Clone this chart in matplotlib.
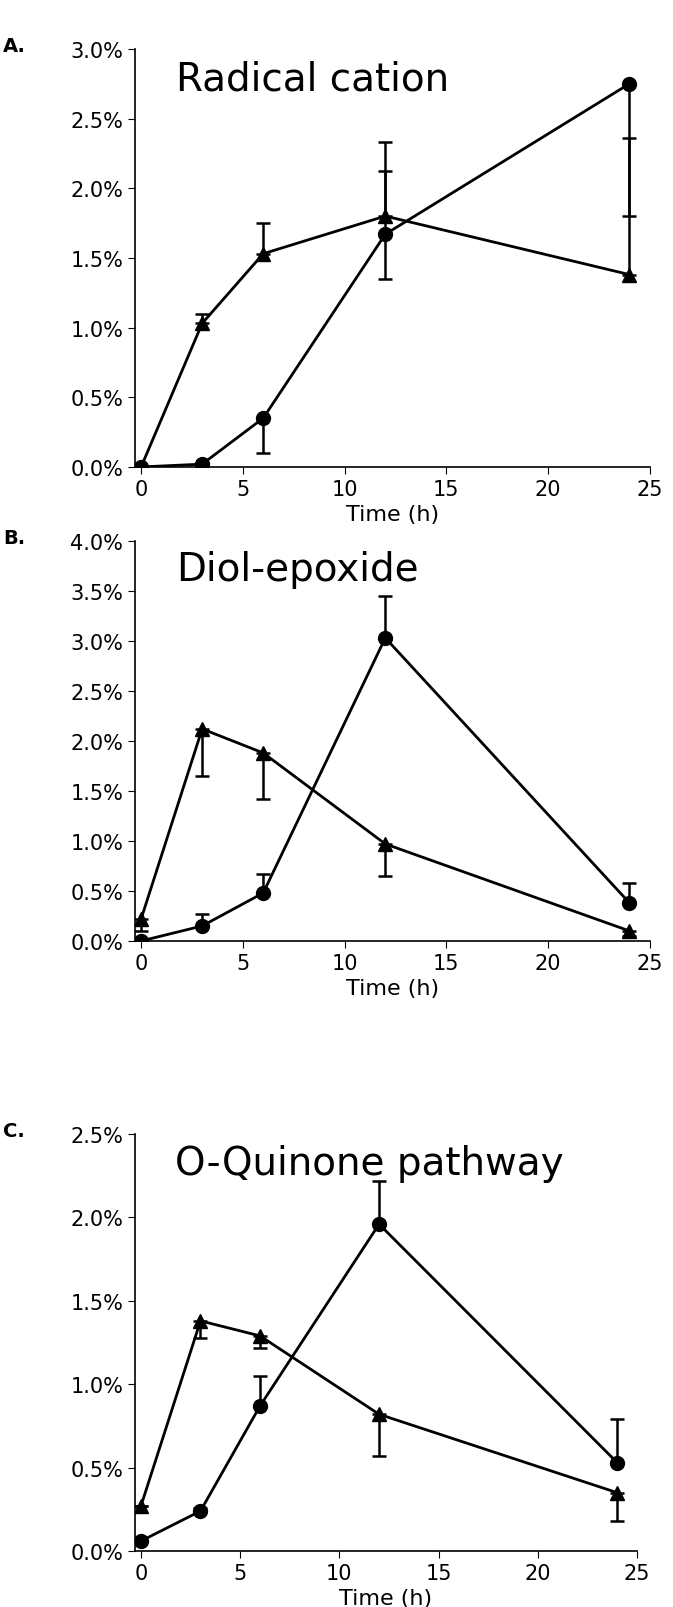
import matplotlib
matplotlib.use("Agg")
import matplotlib.pyplot as plt
from matplotlib.ticker import FuncFormatter

t = [0, 3, 6, 12, 24]
A_circ = [0.0, 0.02, 0.35, 1.67, 2.75]
A_circ_lo = [0, 0, 0.25, 0.32, 0.95]
A_circ_hi = [0, 0, 0, 0.66, 0]
A_tri = [0.0, 1.03, 1.53, 1.80, 1.38]
A_tri_lo = [0, 0, 0, 0, 0]
A_tri_hi = [0, 0.07, 0.22, 0.32, 0.98]

B_circ = [0.0, 0.15, 0.48, 3.03, 0.38]
B_circ_lo = [0, 0, 0, 0, 0]
B_circ_hi = [0, 0.12, 0.19, 0.42, 0.20]
B_tri = [0.22, 2.12, 1.88, 0.97, 0.10]
B_tri_lo = [0.12, 0.47, 0.46, 0.32, 0.05]
B_tri_hi = [0, 0, 0, 0, 0]

C_circ = [0.06, 0.24, 0.87, 1.96, 0.53]
C_circ_lo = [0, 0, 0, 0, 0]
C_circ_hi = [0, 0.02, 0.18, 0.26, 0.26]
C_tri = [0.27, 1.38, 1.29, 0.82, 0.35]
C_tri_lo = [0, 0.10, 0.07, 0.25, 0.17]
C_tri_hi = [0, 0, 0, 0, 0]

fig = plt.figure(figsize=(6.73, 16.08), dpi=100)
pct = FuncFormatter(lambda v, p: f"{v:.1f}%")

panels = [
    ("A.", "Radical cation", [0.2006, 0.709, 0.765, 0.26], 3.0, 0.5,
     A_circ, A_circ_lo, A_circ_hi, A_tri, A_tri_lo, A_tri_hi),
    ("B.", "Diol-epoxide", [0.2006, 0.4142, 0.765, 0.2488], 4.0, 0.5,
     B_circ, B_circ_lo, B_circ_hi, B_tri, B_tri_lo, B_tri_hi),
    ("C.", "O-Quinone pathway", [0.2006, 0.0348, 0.746, 0.2593], 2.5, 0.5,
     C_circ, C_circ_lo, C_circ_hi, C_tri, C_tri_lo, C_tri_hi),
]
for lab, title, pos, ymax, step, c, clo, chi, tr, tlo, thi in panels:
    ax = fig.add_axes(pos)
    ax.errorbar(t, c, yerr=[clo, chi], color="black", marker="o", ms=10,
                lw=2, capsize=5, elinewidth=1.8, capthick=1.8)
    ax.errorbar(t, tr, yerr=[tlo, thi], color="black", marker="^", ms=10,
                lw=2, capsize=5, elinewidth=1.8, capthick=1.8)
    ax.set_xlim(-0.3, 25)
    ax.set_ylim(0, ymax)
    ax.set_xticks([0, 5, 10, 15, 20, 25])
    ax.set_yticks([i * step for i in range(int(round(ymax / step)) + 1)])
    ax.yaxis.set_major_formatter(pct)
    ax.spines["top"].set_visible(False)
    ax.spines["right"].set_visible(False)
    for s in ("left", "bottom"):
        ax.spines[s].set_linewidth(1.2)
    ax.tick_params(labelsize=15, direction="out", length=5)
    ax.set_xlabel("Time (h)", fontsize=16)
    ax.text(0.08, 0.93, title, transform=ax.transAxes, fontsize=28, va="center")
    fig.text(0.005, pos[1] + pos[3] + 0.002, lab, fontsize=14, fontweight="bold", va="center")

fig.savefig("out.png", dpi=100)
